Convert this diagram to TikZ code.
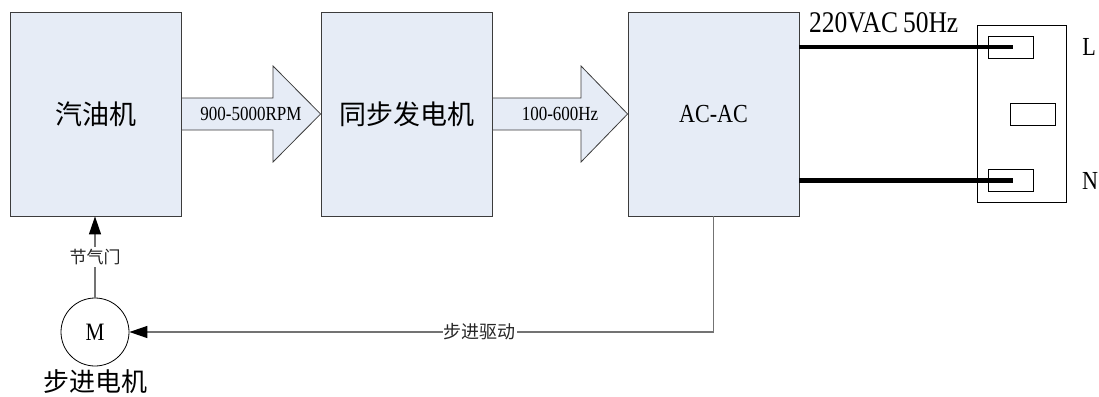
\documentclass[tikz,border=0pt]{standalone}
\usepackage{fontspec}
\setmainfont{Liberation Serif}[FakeStretch=0.85]
\newfontfamily\cjk{Noto Sans CJK SC}
\usetikzlibrary{arrows.meta}
\definecolor{boxfill}{RGB}{230,236,246}
\definecolor{edgegray}{RGB}{60,60,60}
\definecolor{wiregray}{RGB}{115,115,115}
\begin{document}
\begin{tikzpicture}[x=1pt,y=-1pt,
  block/.style={draw=edgegray, fill=boxfill, line width=0.8pt, minimum width=171pt, minimum height=204pt, inner sep=0pt},
  barrow/.style={draw=edgegray, fill=boxfill, line width=0.8pt, line join=miter},
  bigcjk/.style={font=\cjk\fontsize{27}{30}\selectfont},
  smallcjk/.style={font=\cjk\fontsize{17}{19}\selectfont, text=black!85},
  arrowtext/.style={font=\fontsize{20}{22}\selectfont, inner sep=0pt},
  pinrect/.style={draw=black, line width=0.8pt, minimum width=45pt, minimum height=22pt, inner sep=0pt},
  power/.style={line width=4.5pt, line cap=butt},
  wire/.style={draw=wiregray, line width=1.2pt},
  tip/.style={-{Triangle[length=18pt,width=12pt,color=black]}}
]
\useasboundingbox (0,0) rectangle (1099,396);

% main blocks
\node[block, bigcjk] (engine) at (95.5,114) {汽油机};
\node[block, bigcjk] (gen) at (406.5,114) {同步发电机};
\node[block, font=\fontsize{26}{28}\selectfont] (acac) at (713.5,114) {AC-AC};

% block arrows
\draw[barrow] (engine.east |- 0,98) -- (273,98) -- (273,66) -- (gen.west |- 0,114)
  -- (273,162) -- (273,130) -- (engine.east |- 0,130) -- cycle;
\node[arrowtext] (rpm) at (251,114) {900-5000RPM};
\draw[barrow] (gen.east |- 0,98) -- (581,98) -- (581,66) -- (acac.west |- 0,114)
  -- (581,162) -- (581,130) -- (gen.east |- 0,130) -- cycle;
\node[arrowtext] (hz) at (560,114) {100-600Hz};

% socket
\node[draw=black, line width=0.8pt, minimum width=89pt, minimum height=177pt, inner sep=0pt] (socket) at (1021.5,113.5) {};
\node[pinrect] (pinL) at (1010.5,47) {};
\node[pinrect] (pinE) at (1032.5,114) {};
\node[pinrect] (pinN) at (1010.5,180.5) {};
\node[font=\fontsize{26}{28}\selectfont] (labL) at (1089,47) {L};
\node[font=\fontsize{26}{28}\selectfont] (labN) at (1090,181) {N};
\node[anchor=base west, inner sep=0pt, font=\fontsize{30}{32}\selectfont] (vac) at (809,33) {220VAC\hspace{5pt}50Hz};

\draw[power] (acac.east |- pinL.center) -- ([xshift=2pt]pinL.center);
\draw[power] (acac.east |- pinN.center) -- ([xshift=2pt]pinN.center);

% stepper motor
\node[circle, draw=black, line width=0.8pt, minimum size=68pt, inner sep=0pt, font=\fontsize{25}{27}\selectfont] (motor) at (95,332) {M};
\node[font=\cjk\fontsize{26}{28}\selectfont, inner sep=0pt] (motorlab) at (95,382) {步进电机};

% connectors
\draw[wire, tip] (motor.north) -- node[fill=white, inner sep=2pt, smallcjk] (throttle) {节气门} (motor.north |- engine.south);
\coordinate (turn) at (acac.south |- motor.east);
\draw[wire, tip] (acac.south) -- (turn) -- node[pos=0.4, fill=white, inner sep=1pt, font=\cjk\fontsize{18}{20}\selectfont, text=black!85] (drive) {步进驱动} (motor.east);
\end{tikzpicture}
\end{document}
